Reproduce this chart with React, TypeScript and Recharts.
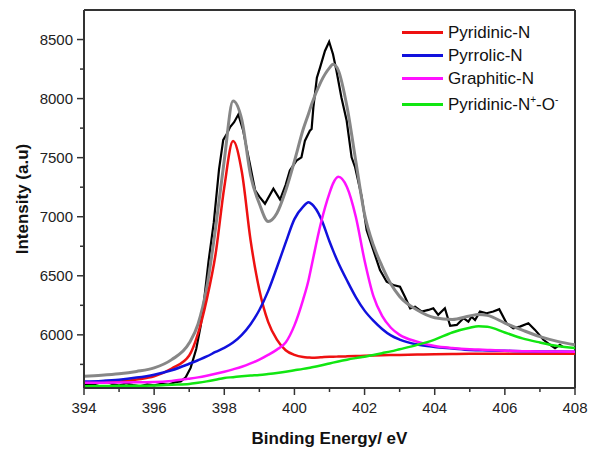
import React from 'react';
import { LineChart, Line, XAxis, YAxis, ReferenceLine } from 'recharts';

// binding energies of the fitted curves (eV)
const fitEnergy = [
  394, 394.5, 395, 395.5, 396, 396.5, 397, 397.25, 397.5, 397.75, 398, 398.25, 398.5, 398.75,
  399, 399.25, 399.5, 399.75, 400, 400.25, 400.4, 400.5, 400.75, 401, 401.1, 401.25, 401.5, 401.75,
  402, 402.25, 402.5, 402.75, 403, 403.5, 404, 404.5, 405, 405.25, 405.5, 406, 406.5, 407, 407.5, 408,
];
const pyridinic = [
  5595, 5598, 5604, 5622, 5648, 5715, 5825, 6010, 6300, 6680, 7250, 7640, 7380, 6800,
  6380, 6110, 5960, 5870, 5830, 5812, 5808, 5806, 5810, 5815, 5815, 5816, 5818, 5820,
  5823, 5825, 5827, 5829, 5830, 5833, 5836, 5838, 5839, 5840, 5840, 5840, 5840, 5840, 5840, 5840,
];
const pyrrolic = [
  5604, 5610, 5620, 5638, 5663, 5700, 5755, 5785, 5817, 5855, 5890, 5935, 6000, 6090,
  6210, 6370, 6570, 6780, 6980, 7085, 7122, 7105, 6990, 6790, 6715, 6610, 6460, 6320,
  6205, 6120, 6050, 5995, 5960, 5918, 5898, 5885, 5872, 5870, 5868, 5865, 5862, 5860, 5858, 5857,
];
const graphitic = [
  5595, 5595, 5596, 5598, 5600, 5610, 5629, 5640, 5654, 5670, 5688, 5708, 5730, 5758,
  5790, 5830, 5875, 5935, 6080, 6300, 6460, 6600, 6940, 7200, 7280, 7338, 7250, 7000,
  6630, 6330, 6160, 6060, 6000, 5942, 5905, 5888, 5878, 5875, 5872, 5866, 5862, 5860, 5858, 5857,
];
const pyridinicOxide = [
  5565, 5566, 5568, 5569, 5572, 5578, 5584, 5594, 5606, 5620, 5635, 5642, 5649, 5655,
  5660, 5668, 5677, 5688, 5700, 5712, 5720, 5725, 5740, 5758, 5765, 5775, 5790, 5803,
  5815, 5830, 5845, 5860, 5878, 5915, 5960, 6020, 6060, 6072, 6068, 6020, 5970, 5935, 5905, 5888,
];
const envelope = [
  5650, 5658, 5670, 5690, 5720, 5790, 5930, 6090, 6400, 6900, 7480, 7980, 7820, 7350,
  7110, 6960, 7030, 7220, 7470, 7740, 7870, 7960, 8140, 8260, 8290, 8240, 7930, 7470,
  7020, 6760, 6580, 6430, 6325, 6210, 6145, 6130, 6160, 6172, 6165, 6100, 6040, 5985, 5945, 5915,
];

// measured spectrum
const rawEnergy = [
  394, 394.2, 394.4, 394.6, 394.8, 395, 395.2, 395.4, 395.6, 395.8, 396, 396.2, 396.4, 396.6,
  396.76, 396.9, 397.04, 397.2, 397.33, 397.42, 397.55, 397.7, 397.85, 397.97, 398.07, 398.16,
  398.28, 398.4, 398.54, 398.65, 398.73, 398.88, 399, 399.16, 399.4, 399.59, 399.75, 399.87,
  400.06, 400.2, 400.3, 400.44, 400.49, 400.54, 400.64, 400.73, 400.87, 400.99, 401.1, 401.2,
  401.34, 401.49, 401.63, 401.73, 401.92, 402.06, 402.25, 402.44, 402.63, 402.82, 403.01, 403.15,
  403.3, 403.44, 403.63, 403.82, 403.96, 404.1, 404.29, 404.44, 404.63, 404.82, 404.96, 405.05,
  405.15, 405.29, 405.48, 405.67, 405.84, 406.05, 406.24, 406.43, 406.67, 406.86, 407.1, 407.29,
  407.43, 407.57, 407.66,
];
const rawIntensity = [
  5580, 5575, 5590, 5610, 5585, 5570, 5590, 5575, 5565, 5580, 5572, 5585, 5578, 5600,
  5606, 5640, 5720, 5880, 6080, 6280, 6620, 6950, 7400, 7650, 7700, 7756,
  7800, 7865, 7728, 7560, 7447, 7222, 7170, 7110, 7237, 7145, 7270, 7391,
  7475, 7503, 7644, 7728, 7742, 7925, 8177, 8262, 8403, 8481, 8375, 8234,
  8009, 7812, 7503, 7419, 7166, 6885, 6717, 6548, 6450, 6422, 6408, 6323,
  6225, 6239, 6197, 6211, 6225, 6169, 6225, 6076, 6084, 6141, 6112, 6154,
  6126, 6197, 6183, 6197, 6217, 6098, 6056, 6070, 6098, 6042, 5958, 5916,
  5888, 5916, 5896,
];

const xTicks = [394, 395, 396, 397, 398, 399, 400, 401, 402, 403, 404, 405, 406, 407, 408];
const yTicks = [5750, 6000, 6250, 6500, 6750, 7000, 7250, 7500, 7750, 8000, 8250, 8500];

const seriesNames = ['Pyridinic-N', 'Pyrrolic-N', 'Graphitic-N', 'Pyridinic-N+-O-'];
const seriesKeys = ['pyridinic', 'pyrrolic', 'graphitic', 'oxide'];
const seriesColors = ['#ee1111', '#1111dd', '#ff11ff', '#11e611'];

const fitData = fitEnergy.map((e, i) => ({
  e,
  pyridinic: pyridinic[i],
  pyrrolic: pyrrolic[i],
  graphitic: graphitic[i],
  oxide: pyridinicOxide[i],
  envelope: envelope[i],
}));
const rawData = rawEnergy.map((e, i) => ({ e, raw: rawIntensity[i] }));

const FONT = 'Arial, "Liberation Sans", sans-serif';
const AXIS = '#333';
const TICK = 7;
const MINOR = 4;
const GAP = 4;

const YTick = (props: any) => {
  const { x, y, payload } = props;
  const axisX = x + GAP + TICK;
  const major = payload.value % 500 === 0;
  return (
    <g>
      <line x1={axisX - (major ? TICK : MINOR)} x2={axisX} y1={y} y2={y} stroke={AXIS} strokeWidth={1.5} />
      {major && (
        <text x={x} y={y} dy={5} textAnchor="end" fontSize={15} fontFamily={FONT} fill="#222">
          {payload.value}
        </text>
      )}
    </g>
  );
};

const XTick = (props: any) => {
  const { x, y, payload } = props;
  const axisY = y - GAP - TICK;
  const major = payload.value % 2 === 0;
  return (
    <g>
      <line x1={x} x2={x} y1={axisY} y2={axisY + (major ? TICK : MINOR)} stroke={AXIS} strokeWidth={1.5} />
      {major && (
        <text x={x} y={y} dy={14} textAnchor="middle" fontSize={15} fontFamily={FONT} fill="#222">
          {payload.value}
        </text>
      )}
    </g>
  );
};

const legendLabel = (name: string) => {
  if (name.endsWith('+-O-')) {
    return (
      <>
        {name.slice(0, -4)}
        <sup style={{ fontSize: 10 }}>+</sup>-O<sup style={{ fontSize: 10 }}>-</sup>
      </>
    );
  }
  return name;
};

export default function App() {
  return (
    <div style={{ position: 'absolute', left: 0, top: 0, width: 589, height: 452, background: '#fff' }}>
      <LineChart width={589} height={452} data={fitData} margin={{ top: 10, right: 14, bottom: 0, left: 0 }}>
        <XAxis
          dataKey="e"
          type="number"
          domain={[394, 408]}
          ticks={xTicks}
          allowDataOverflow
          height={64}
          tickSize={TICK}
          tickMargin={GAP}
          tickLine={false}
          tick={<XTick />}
          axisLine={{ stroke: AXIS, strokeWidth: 2 }}
          label={(p: any) => (
            <text
              x={p.viewBox.x + p.viewBox.width / 2}
              y={p.viewBox.y + 56}
              textAnchor="middle"
              fontSize={17}
              fontWeight="bold"
              fontFamily={FONT}
              fill="#111"
            >
              Binding Energy/ eV
            </text>
          )}
        />
        <YAxis
          type="number"
          domain={[5550, 8750]}
          ticks={yTicks}
          allowDataOverflow
          width={84}
          tickSize={TICK}
          tickMargin={GAP}
          tickLine={false}
          tick={<YTick />}
          axisLine={{ stroke: AXIS, strokeWidth: 2 }}
          label={(p: any) => {
            const cx = p.viewBox.x + 22;
            const cy = p.viewBox.y + p.viewBox.height / 2;
            return (
              <text
                x={cx}
                y={cy}
                transform={`rotate(-90, ${cx}, ${cy})`}
                textAnchor="middle"
                dominantBaseline="central"
                fontSize={17}
                fontWeight="bold"
                fontFamily={FONT}
                fill="#111"
              >
                Intensity (a.u)
              </text>
            );
          }}
        />
        <ReferenceLine y={8750} stroke={AXIS} strokeWidth={2} />
        <ReferenceLine x={408} stroke={AXIS} strokeWidth={2} />
        <Line data={rawData} dataKey="raw" stroke="#000" strokeWidth={2.2} dot={false} type="linear" isAnimationActive={false} />
        <Line dataKey="envelope" stroke="#878787" strokeWidth={3} dot={false} type="monotone" isAnimationActive={false} />
        {seriesKeys.map((k, i) => (
          <Line
            key={k}
            dataKey={k}
            name={seriesNames[i]}
            stroke={seriesColors[i]}
            strokeWidth={2.5}
            dot={false}
            type="monotone"
            isAnimationActive={false}
          />
        ))}
      </LineChart>
      <div style={{ position: 'absolute', left: 402, top: 21, fontFamily: FONT, fontSize: 17, color: '#111' }}>
        {seriesNames.map((n, i) => (
          <div key={n} style={{ display: 'flex', alignItems: 'center', height: 23, marginTop: i === 3 ? 3 : 0 }}>
            <span style={{ display: 'inline-block', width: 41, height: 3, background: seriesColors[i], marginRight: 5 }} />
            <span style={{ whiteSpace: 'nowrap' }}>{legendLabel(n)}</span>
          </div>
        ))}
      </div>
    </div>
  );
}
